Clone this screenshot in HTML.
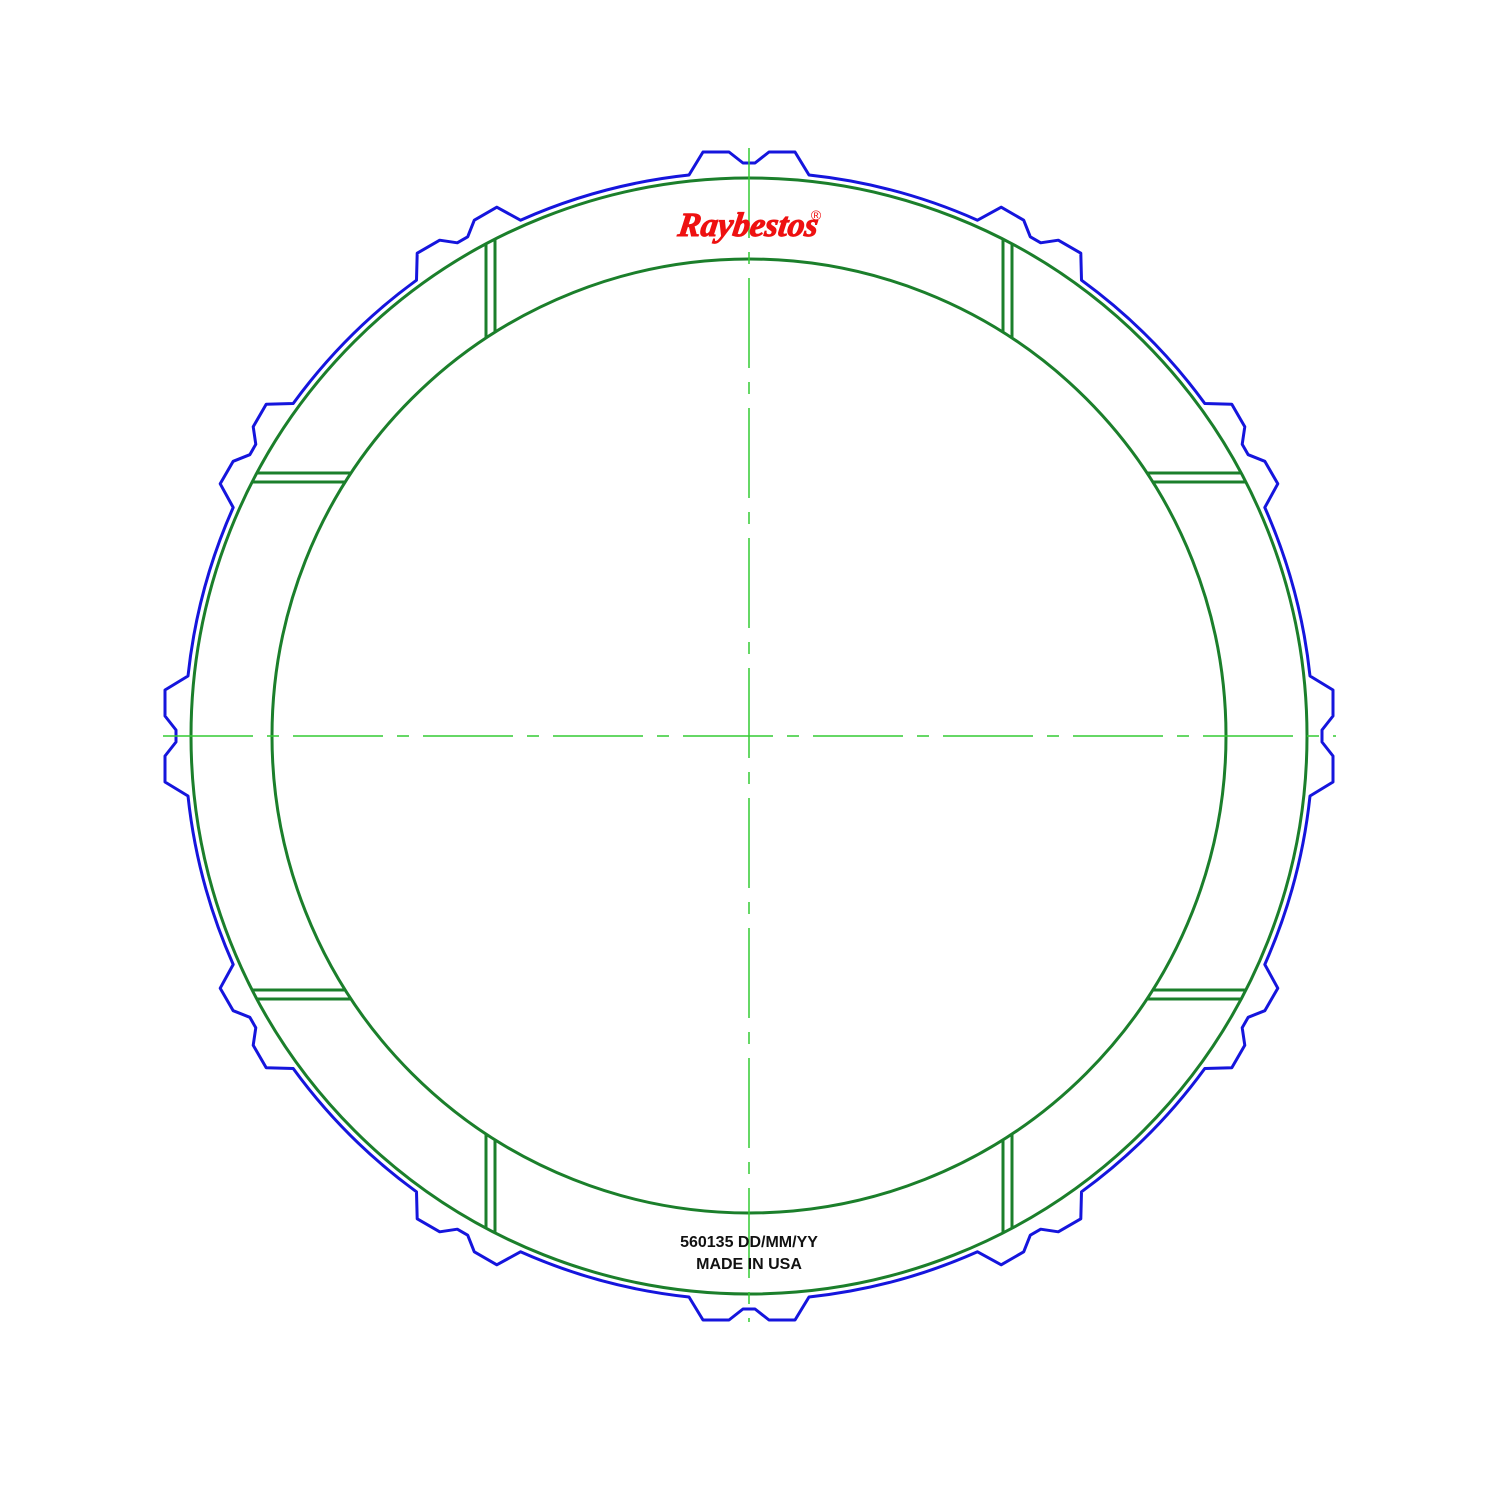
<!DOCTYPE html>
<html><head><meta charset="utf-8"><style>
html,body{margin:0;padding:0;background:#fff;}
svg{display:block;}
</style></head><body>
<svg id="chart" width="1500" height="1500" viewBox="0 0 1500 1500" xmlns="http://www.w3.org/2000/svg">
<rect width="1500" height="1500" fill="#fff"/>
<g id="g"></g>
<text x="748" y="236" text-anchor="middle" font-family="Liberation Serif, serif" font-style="italic" font-weight="bold" font-size="34" fill="#ee1111" stroke="#ee1111" stroke-width="1" transform="skewX(-8) translate(32,0)">Raybestos</text>
<text x="816" y="220" text-anchor="middle" font-family="Liberation Sans, sans-serif" font-size="14" fill="#ee1111">®</text>
<text x="749" y="1247" text-anchor="middle" font-family="Liberation Sans, sans-serif" font-weight="bold" font-size="16" fill="#111">560135 DD/MM/YY</text>
<text x="749" y="1269" text-anchor="middle" font-family="Liberation Sans, sans-serif" font-weight="bold" font-size="16" fill="#111">MADE IN USA</text>
</svg>
<script>
const toothAngles=[0,30,60,90,120,150,180,210,240,270,300,330];
const slotOffsets=[254,263];
const cx=749, cy=736, rOut=558, rIn=477, rBase=561;
const NS='http://www.w3.org/2000/svg';
const g=document.getElementById('g');
function mk(t,a){const e=document.createElementNS(NS,t);for(const k in a)e.setAttribute(k,a[k]);g.appendChild(e);return e;}
const prof=[[-60,561],[-46,584],[-20,584],[-6,573],[6,573],[20,584],[46,584],[60,561]];
let d='';
toothAngles.forEach((a,i)=>{
  const th=a*Math.PI/180;
  prof.forEach((p,j)=>{
    const x=cx+p[0]*Math.cos(th)+p[1]*Math.sin(th);
    const y=cy+p[0]*Math.sin(th)-p[1]*Math.cos(th);
    if(i===0&&j===0)d+='M'+x.toFixed(1)+' '+y.toFixed(1);
    else if(j===0)d+=' A'+rBase+' '+rBase+' 0 0 1 '+x.toFixed(1)+' '+y.toFixed(1);
    else d+=' L'+x.toFixed(1)+' '+y.toFixed(1);
  });
});
const sx=cx-60, sy=cy-561;
d+=' A'+rBase+' '+rBase+' 0 0 1 '+sx+' '+sy+' Z';
const outline=mk('path',{d:d,fill:'none',stroke:'#1515dd','stroke-width':3,'stroke-linejoin':'round'});


const co=mk('circle',{cx:cx,cy:cy,r:rOut,fill:'none',stroke:'#1b7f2b','stroke-width':3});


const ci=mk('circle',{cx:cx,cy:cy,r:rIn,fill:'none',stroke:'#1b7f2b','stroke-width':3});


[-1,1].forEach(s1=>[-1,1].forEach(s2=>slotOffsets.forEach(o=>{
  const yi=Math.sqrt(rIn*rIn-o*o), yo=Math.sqrt(rOut*rOut-o*o);
  const v=mk('line',{x1:cx+s1*o,y1:cy+s2*yi,x2:cx+s1*o,y2:cy+s2*yo,stroke:'#1b7f2b','stroke-width':3});
  
  
  const h=mk('line',{y1:cy+s1*o,x1:cx+s2*yi,y2:cy+s1*o,x2:cx+s2*yo,stroke:'#1b7f2b','stroke-width':3});
  
  
})));
const hl=mk('line',{x1:163,y1:cy,x2:1336,y2:cy,stroke:'#33cc33','stroke-width':1.5,'stroke-dasharray':'90 14 12 14'});


const vl=mk('line',{x1:cx,y1:148,x2:cx,y2:1322,stroke:'#33cc33','stroke-width':1.5,'stroke-dasharray':'90 14 12 14'});


</script>
</body></html>
